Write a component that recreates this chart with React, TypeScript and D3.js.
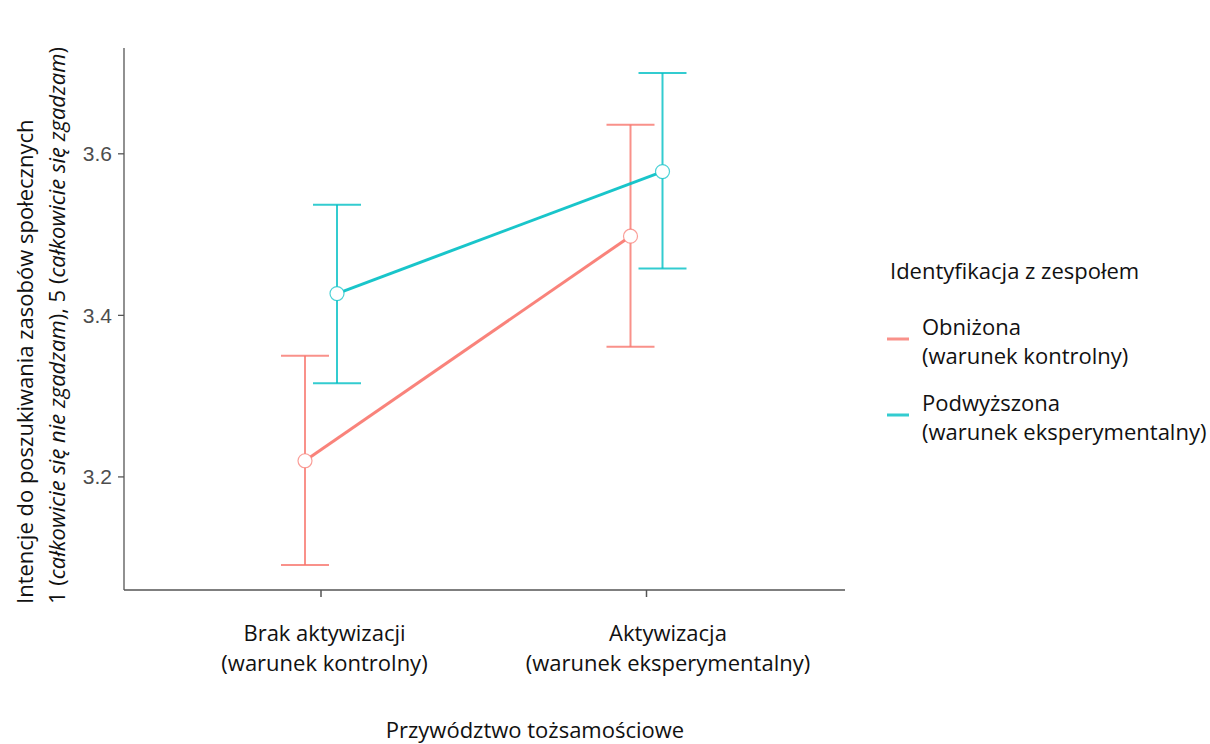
import React from "react";
import * as d3 from "d3";

const categories = ["Brak aktywizacji\n(warunek kontrolny)", "Aktywizacja\n(warunek eksperymentalny)"];
const groups = ["Obniżona\n(warunek kontrolny)", "Podwyższona\n(warunek eksperymentalny)"];
const colors = ["#F8766D", "#00BFC4"];
const means = [
  [3.22, 3.498],
  [3.427, 3.578],
];
const lowers = [
  [3.091, 3.361],
  [3.316, 3.458],
];
const uppers = [
  [3.35, 3.636],
  [3.537, 3.7],
];
const yTicks = [3.2, 3.4, 3.6];

const W = 1210, H = 744;
const left = 124, right = 845, top = 48, bottom = 590;
const FONT = "'Open Sans', sans-serif";
const FS = 22;
const labelShift = [3.5, 21.5];

export default function App() {
  const x = d3.scalePoint<string>().domain(categories).range([321, 646.5]);
  const y = d3.scaleLinear().domain([3.06, 3.731]).range([bottom, top]);
  const dodge = d3.scalePoint<number>().domain([0, 1]).range([-16, 16]);
  const line = d3.line<[number, number]>().x((d) => d[0]).y((d) => d[1]);

  return (
    <svg width={W} height={H} style={{ position: "absolute", left: 0, top: 0, background: "#fff" }}>
      {/* axes */}
      <line x1={left} y1={top} x2={left} y2={bottom} stroke="#555" strokeWidth={1.3} />
      <line x1={left} y1={bottom} x2={right} y2={bottom} stroke="#555" strokeWidth={1.3} />
      {yTicks.map((t) => (
        <g key={t}>
          <line x1={left - 6} x2={left} y1={y(t)} y2={y(t)} stroke="#555" strokeWidth={1.3} />
          <text x={left - 12} y={y(t)} dy="0.36em" textAnchor="end" fontFamily="'Liberation Sans', Arial, sans-serif" fontSize={21} fill="#4D4D4D">
            {t.toFixed(1)}
          </text>
        </g>
      ))}
      {categories.map((c, ci) => (
        <g key={c}>
          <line x1={x(c)} x2={x(c)} y1={bottom} y2={bottom + 7} stroke="#555" strokeWidth={1.5} />
          {c.split("\n").map((l, i) => (
            <text key={i} x={(x(c) as number) + labelShift[ci]} y={641 + i * 30} textAnchor="middle" fontFamily={FONT} fontSize={FS} fill="#111">
              {l}
            </text>
          ))}
        </g>
      ))}
      <text x={535} y={738} textAnchor="middle" fontFamily={FONT} fontSize={FS} fill="#111">
        Przywództwo tożsamościowe
      </text>
      <g transform="translate(33,604) rotate(-90)">
        <text x={0} y={0} textAnchor="start" fontFamily={FONT} fontSize={FS} fill="#111">
          Intencje do poszukiwania zasobów społecznych
        </text>
        <text x={0} y={32} textAnchor="start" fontFamily={FONT} fontSize={FS} fill="#111">
          1 (<tspan fontStyle="italic">całkowicie się nie zgadzam</tspan>), 5 (<tspan fontStyle="italic">całkowicie się zgadzam</tspan>)
        </text>
      </g>

      {/* series */}
      {groups.map((g, gi) => {
        const pts: [number, number][] = categories.map((c, ci) => [(x(c) as number) + (dodge(gi) as number), y(means[gi][ci])]);
        return (
          <g key={g}>
            {categories.map((c, ci) => {
              const cx = (x(c) as number) + (dodge(gi) as number);
              return (
                <g key={c} stroke={colors[gi]} strokeOpacity={0.8} strokeWidth={2}>
                  <line x1={cx} x2={cx} y1={y(lowers[gi][ci])} y2={y(uppers[gi][ci])} />
                  <line x1={cx - 24} x2={cx + 24} y1={y(lowers[gi][ci])} y2={y(lowers[gi][ci])} />
                  <line x1={cx - 24} x2={cx + 24} y1={y(uppers[gi][ci])} y2={y(uppers[gi][ci])} />
                </g>
              );
            })}
            <path d={line(pts) || ""} fill="none" stroke={colors[gi]} strokeWidth={3} strokeOpacity={0.9} />
            {pts.map((p, i) => (
              <circle key={i} cx={p[0]} cy={p[1]} r={7} fill="#fff" stroke={colors[gi]} strokeOpacity={0.7} strokeWidth={1.2} />
            ))}
          </g>
        );
      })}

      {/* legend */}
      <text x={890} y={279} fontFamily={FONT} fontSize={FS} fill="#111">
        Identyfikacja z zespołem
      </text>
      {groups.map((g, gi) => (
        <g key={g} transform={`translate(0,${gi * 76})`}>
          <line x1={887} x2={909} y1={339} y2={339} stroke={colors[gi]} strokeOpacity={0.8} strokeWidth={3} />
          {g.split("\n").map((l, i) => (
            <text key={i} x={922} y={335 + i * 29} fontFamily={FONT} fontSize={FS} fill="#111">
              {l}
            </text>
          ))}
        </g>
      ))}
    </svg>
  );
}
